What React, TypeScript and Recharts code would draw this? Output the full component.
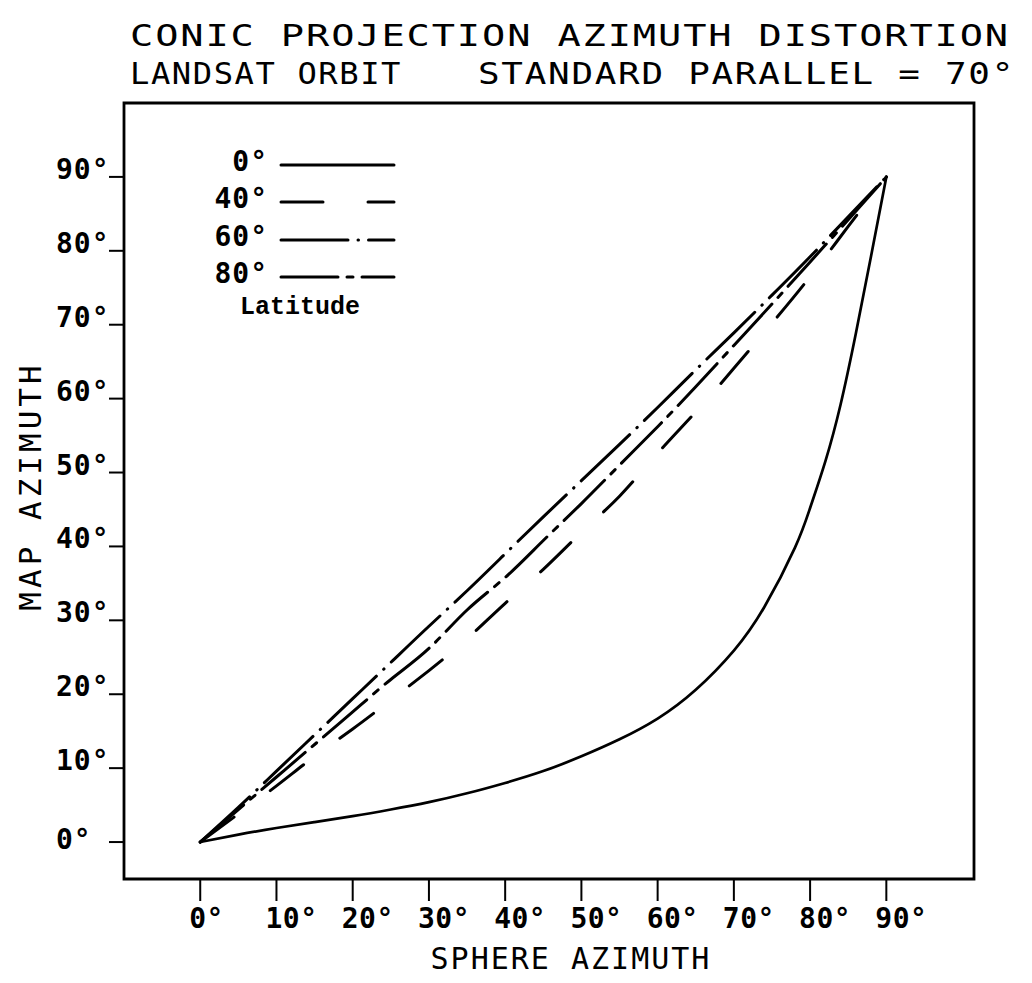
import React from "react";
import { LineChart, Line, XAxis, YAxis, ReferenceArea, Legend } from "recharts";

// sphere azimuth (deg) -> map azimuth (deg)
const sphereAzEquator = [0, 5, 10, 15, 20, 25, 30, 35, 40, 45, 50, 55, 60, 65, 70, 74, 78, 80, 82, 84, 86, 88, 90];
const mapAzLat0 = [0, 1, 1.9, 2.7, 3.5, 4.4, 5.4, 6.6, 8, 9.6, 11.6, 13.9, 16.7, 20.6, 25.9, 31.8, 39.8, 45.2, 51.5, 59.2, 68.8, 79.3, 90];

const sphereAz = [0, 5, 10, 15, 20, 25, 30, 35, 40, 45, 50, 55, 60, 65, 70, 75, 80, 85, 90];
const mapAzLat40 = [0, 3.8, 7.6, 11.6, 15.3, 19.2, 23.2, 27.5, 32.3, 36.9, 41.9, 46.8, 52.6, 58.2, 64.1, 70.2, 76.5, 83.3, 90];
const mapAzLat60 = [0, 4.7, 9.6, 14.5, 19.4, 24.3, 29.2, 34, 39, 44, 48.9, 53.8, 58.8, 63.9, 68.9, 74, 79.2, 84.6, 90];
const mapAzLat80 = [0, 4.4, 8.8, 13.2, 17.6, 22, 26.2, 31.4, 35.8, 40.8, 45.8, 51, 56.2, 61.6, 67.2, 72.8, 78.5, 84.2, 90];

const latitudeLabels = ["0°", "40°", "60°", "80°"];
const degreeTicks = [0, 10, 20, 30, 40, 50, 60, 70, 80, 90];

const X_DOMAIN = [-10, 101.5];
const Y_DOMAIN = [-5, 100];

const PLOT_FONT = '"DejaVu Sans Mono", monospace';
const DASHES = ["", "42 45", "67 10 0.5 10", "57 9 6 9"];

const toPoints = (xs: number[], ys: number[]) => xs.map((x, i) => ({ x, y: ys[i] }));

const series = [
  { name: latitudeLabels[0], data: toPoints(sphereAzEquator, mapAzLat0) },
  { name: latitudeLabels[1], data: toPoints(sphereAz, mapAzLat40) },
  { name: latitudeLabels[2], data: toPoints(sphereAz, mapAzLat60) },
  { name: latitudeLabels[3], data: toPoints(sphereAz, mapAzLat80) },
];

const XTick = ({ x, y, payload }: any) => (
  <text
    x={x - 11}
    y={y}
    dy={20}
    textAnchor="start"
    fill="#000"
    fontSize={28}
    fontWeight="bold"
    fontFamily={PLOT_FONT}
    letterSpacing={0.5}
  >
    {`${payload.value}°`}
  </text>
);

const YTick = ({ x, y, payload }: any) => (
  <text
    x={x - 51}
    y={y - (payload.value === 0 ? 3 : 8)}
    dy={10}
    textAnchor="start"
    fill="#000"
    fontSize={28}
    fontWeight="bold"
    fontFamily={PLOT_FONT}
    letterSpacing={1}
  >
    {`${payload.value}°`}
  </text>
);

const LatitudeLegend = () => (
  <div style={{ color: "#000" }}>
    {series.map((s, i) => (
      <div key={s.name} style={{ display: "flex", alignItems: "center", height: 37.5 }}>
        <span
          style={{
            width: 80,
            textAlign: "right",
            fontFamily: PLOT_FONT,
            fontWeight: "bold",
            fontSize: 28,
            letterSpacing: 1,
            lineHeight: "28px",
          }}
        >
          {s.name}
        </span>
        <svg width={120} height={20} style={{ marginLeft: 10 }}>
          <line
            x1={3}
            x2={116}
            y1={13}
            y2={13}
            stroke="#000"
            strokeWidth={3}
            strokeLinecap="round"
            strokeDasharray={DASHES[i] || undefined}
          />
        </svg>
      </div>
    ))}
    <div
      style={{
        marginLeft: 52,
        marginTop: 2,
        fontFamily: '"Liberation Mono", monospace',
        fontWeight: "bold",
        fontSize: 25,
        lineHeight: "25px",
      }}
    >
      Latitude
    </div>
  </div>
);

export default function App() {
  return (
    <div style={{ position: "absolute", left: 0, top: 0, width: 1032, height: 983, background: "#fff" }}>
      <LineChart width={1032} height={983} margin={{ top: 103, right: 58, bottom: 8, left: 8 }}>
        <XAxis
          type="number"
          dataKey="x"
          domain={X_DOMAIN}
          ticks={degreeTicks}
          allowDataOverflow
          height={96}
          axisLine={false}
          tickLine={{ stroke: "#000", strokeWidth: 2 }}
          tickSize={22}
          tickMargin={7}
          tick={<XTick />}
          label={{
            value: "SPHERE AZIMUTH",
            position: "insideBottom",
            offset: 6,
            dx: 22,
            fill: "#000",
            fontSize: 30,
            fontFamily: PLOT_FONT,
            letterSpacing: 2,
          }}
        />
        <YAxis
          type="number"
          dataKey="y"
          domain={Y_DOMAIN}
          ticks={degreeTicks}
          allowDataOverflow
          width={116}
          axisLine={false}
          tickLine={{ stroke: "#000", strokeWidth: 2 }}
          tickSize={15}
          tickMargin={2}
          tick={<YTick />}
          label={{
            value: "MAP AZIMUTH",
            angle: -90,
            position: "insideLeft",
            offset: 22,
            dy: -5,
            textAnchor: "middle",
            fill: "#000",
            fontSize: 31,
            fontFamily: PLOT_FONT,
            letterSpacing: 4,
          }}
        />
        <ReferenceArea
          x1={X_DOMAIN[0]}
          x2={X_DOMAIN[1]}
          y1={Y_DOMAIN[0]}
          y2={Y_DOMAIN[1]}
          fill="none"
          stroke="#000"
          strokeWidth={2.8}
          ifOverflow="visible"
        />
        <Legend
          layout="vertical"
          align="center"
          verticalAlign="middle"
          content={<LatitudeLegend />}
          wrapperStyle={{ left: 188, top: 143, width: 240 }}
        />
        {series.map((s, i) => (
          <Line
            key={s.name}
            name={s.name}
            data={s.data}
            dataKey="y"
            type="natural"
            stroke="#000"
            strokeWidth={i === 0 ? 2.7 : 3}
            strokeLinecap="round"
            strokeDasharray={DASHES[i] || undefined}
            dot={false}
            activeDot={false}
            isAnimationActive={false}
          />
        ))}
      </LineChart>
      <svg width={1032} height={100} style={{ position: "absolute", left: 0, top: 0, pointerEvents: "none" }}>
        <g fill="#000" fontFamily={PLOT_FONT} fontSize={31} letterSpacing={1.5}>
          <text x={130} y={46} textLength={880} lengthAdjust="spacingAndGlyphs">
            CONIC PROJECTION AZIMUTH DISTORTION
          </text>
          <text x={130} y={84} textLength={272} lengthAdjust="spacingAndGlyphs">
            LANDSAT ORBIT
          </text>
          <text x={478} y={84} textLength={537} lengthAdjust="spacingAndGlyphs">
            STANDARD PARALLEL = 70°
          </text>
        </g>
      </svg>
    </div>
  );
}
